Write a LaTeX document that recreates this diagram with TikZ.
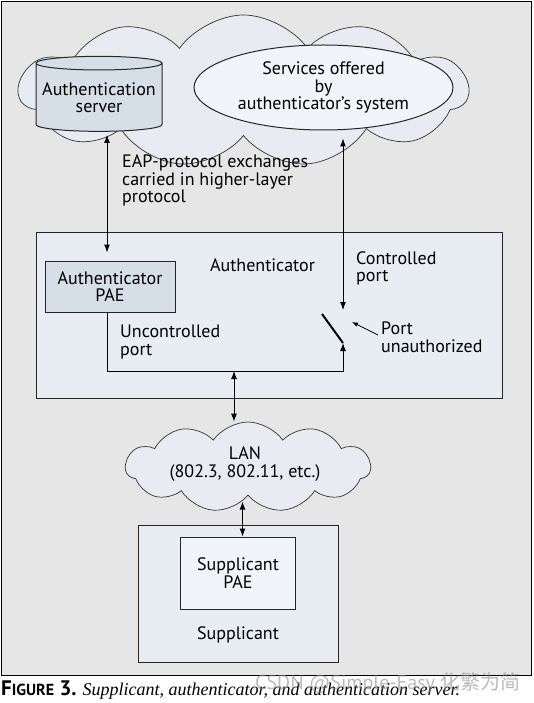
\documentclass[tikz,border=0pt]{standalone}
\usepackage{fontspec}
\setmainfont{PT Sans}
\newfontfamily\capserif{Liberation Serif}
\newfontfamily\cjk{Noto Sans CJK SC}
\usetikzlibrary{shapes.geometric,shapes.symbols,arrows.meta}
\definecolor{framegray}{HTML}{E6E6E6}
\definecolor{cloudblue}{HTML}{E8ECF2}
\definecolor{boxblue}{HTML}{E8EDF3}
\definecolor{paeblue}{HTML}{D6DFE8}
\definecolor{lightfill}{HTML}{F1F4F8}
\tikzset{
  txt/.style={font=\fontsize{18}{17.5}\selectfont},
  lbl/.style={txt, align=left, inner sep=0pt},
  netcloud/.style={cloud, cloud puffs=11, cloud puff arc=110, cloud ignores aspect,
    draw=black!80, line width=0.7pt, fill=cloudblue, inner sep=0pt, txt, align=center},
  sysbox/.style={rectangle, draw=black!85, line width=1pt, fill=boxblue, inner sep=0pt},
  paebox/.style={rectangle, draw=black!85, line width=1pt, fill=paeblue, inner sep=0pt,
    txt, align=center},
  link/.style={line width=1pt, <->},
}
\begin{document}
\begin{tikzpicture}[x=1pt, y=1pt, >={Latex[length=8pt,width=6pt]}]
  \useasboundingbox (0,0) rectangle (533,-703);
  \draw[line width=0.9pt, fill=framegray] (1,-1) rectangle (531,-675);
  % upper cloud with server and services
  \node[netcloud, minimum width=449pt, minimum height=152pt] (core) at (243.5,-91) {};
  \node[cylinder, shape border rotate=90, aspect=0.12, draw=black!85, line width=1pt,
    fill=paeblue, minimum width=126pt, minimum height=75pt, inner sep=0pt, txt, align=center]
    (authsrv) at (99,-97.5) {Authentication\\server};
  \node[ellipse, draw=black!85, line width=1pt, fill=lightfill, minimum width=259pt,
    minimum height=85pt, inner sep=0pt, txt, align=center]
    (svc) at (323.5,-87.5) {Services offered\\by\\authenticator's system};
  \node[lbl, anchor=north west] (eap) at (122,-155) {EAP-protocol exchanges\\carried in higher-layer\\protocol};
  % authenticator
  \node[sysbox, minimum width=466pt, minimum height=166pt] (auth) at (269,-315) {};
  \node[paebox, minimum width=130pt, minimum height=51pt] (pae) at (110,-286.5) {Authenticator\\PAE};
  \node[txt, anchor=base] (authlbl) at (262.5,-271) {Authenticator};
  \node[lbl, anchor=north west] (ctrllbl) at (356,-251) {Controlled\\port};
  \node[lbl, anchor=north west] (unclbl) at (120,-325) {Uncontrolled\\port};
  \node[lbl, anchor=north west] (unauth) at (381,-322) {Port\\unauthorized};
  \coordinate (leftx) at (107,0);
  \coordinate (ctrl) at (343,-310);
  \coordinate (busr) at (343,-371);
  \coordinate (bus) at (234,-371);
  \coordinate (sw1) at (322,-314);
  \coordinate (sw2) at (343,-343);
  \draw[link, shorten <=3pt, shorten >=8pt] (authsrv.south -| leftx) -- (pae.north -| leftx);
  \draw[link, shorten <=8pt] (svc.south -| ctrl) -- (ctrl);
  \draw[line width=1pt, ->] (pae.south -| leftx) |- (busr) -- (sw2);
  \draw[line width=2pt] (sw1) -- (sw2);
  \draw[line width=0.8pt, ->, >={Latex[length=6pt,width=4.5pt]}] (378,-335) -- (352,-322);
  % LAN
  \node[netcloud, minimum width=245pt, minimum height=90pt] (lan) at (248,-467) {};
  \node[txt, align=center] (lanlbl) at (245,-464) {LAN\\(802.3, 802.11, etc.)};
  \draw[link] (bus) -- (bus |- lan.north);
  % supplicant
  \coordinate (sx) at (242.5,0);
  \node[sysbox, minimum width=200pt, minimum height=137pt] (supp) at (238,-593.5) {};
  \node[paebox, fill=lightfill, minimum width=115pt, minimum height=72pt] (spae) at (238,-573) {Supplicant\\PAE};
  \node[txt, anchor=base] (supplbl) at (238,-639) {Supplicant};
  \draw[link, shorten <=6pt, shorten >=0pt] (lan.south -| sx) -- (spae.north -| sx);
  % caption
  \node[anchor=base west, inner sep=0pt] (cap) at (1,-695)
    {{\bfseries\fontsize{21}{21}\selectfont F}{\bfseries\fontsize{16}{16}\selectfont IGURE}{\bfseries\fontsize{21}{21}\selectfont\ 3.}\hspace{6pt}%
     {\capserif\itshape\fontsize{18}{18}\selectfont Supplicant, authenticator, and authentication server.}};
  \node[anchor=base west, inner sep=0pt, text=black!45, opacity=0.6] (mark) at (255,-689)
    {\fontsize{20}{20}\selectfont CSDN @Simple-Easy {\cjk 化繁为简}};
\end{tikzpicture}
\end{document}
